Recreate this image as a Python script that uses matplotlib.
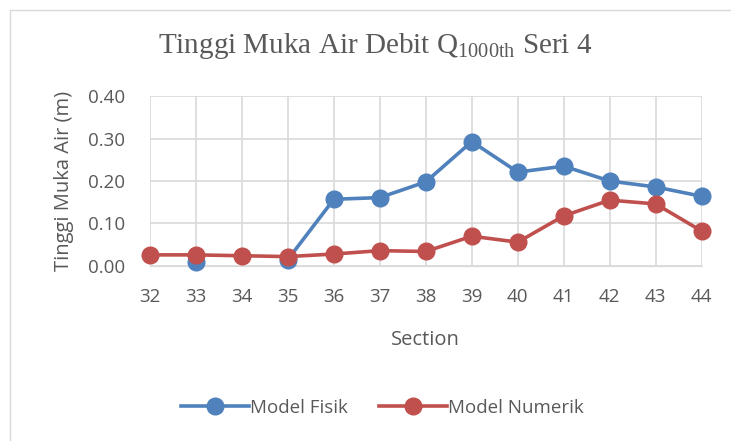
import matplotlib.pyplot as plt
import numpy as np
from matplotlib.patches import Rectangle

sections = [32, 33, 34, 35, 36, 37, 38, 39, 40, 41, 42, 43, 44]
# gaps at 32 and 34 for the physical model (isolated marker at 33)
model_fisik = [np.nan, 0.010, np.nan, 0.015, 0.157, 0.161, 0.198, 0.293, 0.221, 0.235, 0.200, 0.186, 0.164]
model_numerik = [0.026, 0.026, 0.024, 0.022, 0.028, 0.036, 0.034, 0.070, 0.056, 0.118, 0.155, 0.146, 0.082]
yticks = [0.0, 0.1, 0.2, 0.3, 0.4]

plt.rcParams['mathtext.fontset'] = 'custom'
plt.rcParams['mathtext.rm'] = 'Liberation Serif'
plt.rcParams['mathtext.it'] = 'Liberation Serif'

fig = plt.figure(figsize=(7.31, 4.41), dpi=100)
ax = fig.add_axes([0.205, 0.397, 0.755, 0.385])

# outer chart frame
fig.patches.append(Rectangle((0.014, -0.01), 1.0, 0.988, transform=fig.transFigure,
                             fill=False, edgecolor='#D9D9D9', linewidth=1))

ax.plot(sections, model_fisik, color='#4F81BD', linewidth=2.6, marker='o',
        markersize=12, label='Model Fisik', clip_on=False, zorder=3)
ax.plot(sections, model_numerik, color='#C0504D', linewidth=2.6, marker='o',
        markersize=12, label='Model Numerik', clip_on=False, zorder=4)

ax.set_xlim(32, 44)
ax.set_ylim(0, 0.4)
ax.set_xticks(sections)
ax.set_yticks(yticks)
ax.set_yticklabels([f'{v:.2f}' for v in yticks])
ax.grid(True, color='#D9D9D9', linewidth=1.2)
ax.set_axisbelow(True)
for s in ['top', 'right', 'left']:
    ax.spines[s].set_visible(False)
ax.spines['bottom'].set_color('#D9D9D9')
ax.tick_params(length=0, labelsize=13.5, colors='#595959')
ax.tick_params(axis='x', pad=16)
ax.tick_params(axis='y', pad=18)
for lab in ax.get_xticklabels() + ax.get_yticklabels():
    lab.set_fontfamily('Open Sans')

ax.set_xlabel('Section', fontsize=14.5, color='#595959', family='Open Sans', labelpad=17)
ax.set_ylabel('Tinggi Muka Air (m)', fontsize=14.5, color='#595959', family='Open Sans', labelpad=10)

fig.text(0.513, 0.895, r'Tinggi Muka Air Debit Q$_{\mathrm{1000th}}$ Seri 4',
         ha='center', va='center', fontsize=21, color='#595959', family='Liberation Serif')

leg = fig.legend(loc='center', bbox_to_anchor=(0.523, 0.075), ncol=2, frameon=False,
                 prop={'family': 'Open Sans', 'size': 13.5}, handlelength=3.6,
                 handletextpad=0.05, columnspacing=1.7)
for t in leg.get_texts():
    t.set_color('#595959')

fig.savefig('out.png', dpi=100)
